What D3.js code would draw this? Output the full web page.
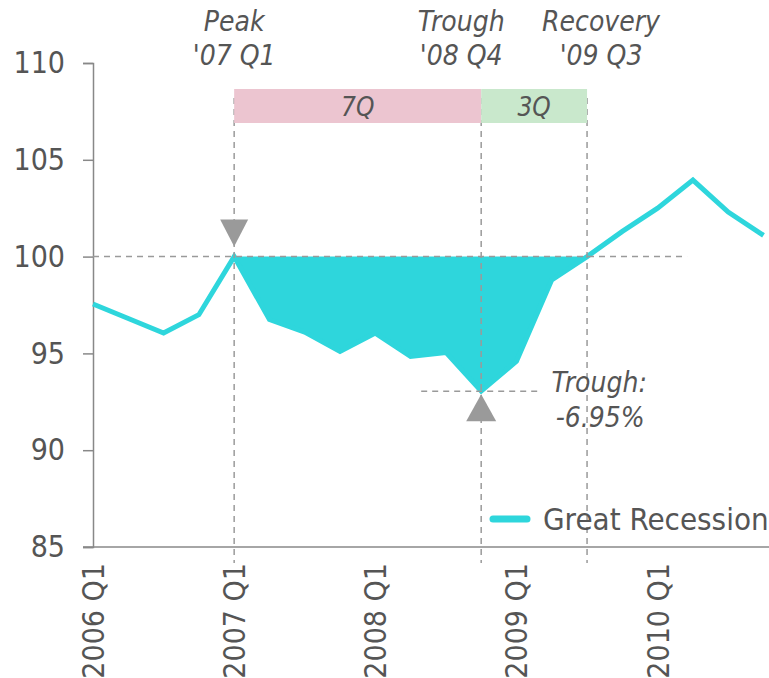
<!DOCTYPE html>
<html>
<head>
<meta charset="utf-8">
<script src="https://cdn.jsdelivr.net/npm/d3@7"></script>
<style>
  body { margin: 0; background: #fff; }
  text { font-family: "DejaVu Sans Condensed", "DejaVu Sans", sans-serif; fill: #555; }
  .note { font-style: italic; font-size: 28px; }
</style>
</head>
<body>
<div id="chartDiv"></div>
<script>
//Quarter labels and index values (peak = 100)
var quarters = ["2006 Q1","2006 Q2","2006 Q3","2006 Q4",
                "2007 Q1","2007 Q2","2007 Q3","2007 Q4",
                "2008 Q1","2008 Q2","2008 Q3","2008 Q4",
                "2009 Q1","2009 Q2","2009 Q3","2009 Q4",
                "2010 Q1","2010 Q2","2010 Q3","2010 Q4"];
var values = [97.55, 96.8, 96.05, 97.0,
              100, 96.75, 96.1, 95.1,
              96.05, 94.85, 95.05, 93.05,
              94.6, 98.8, 100, 101.3,
              102.5, 103.95, 102.3, 101.1];
var yTicks = [85, 90, 95, 100, 105, 110];
var xTickIdx = [0, 4, 8, 12, 16];
var seriesName = "Great Recession";

//Events: peak, trough, recovery (index into quarters)
var peakIdx = 4, troughIdx = 11, recovIdx = 14;
var troughPct = "-6.95%";
var eventNames = ["Peak", "Trough", "Recovery"];
var eventDates = ["'07 Q1", "'08 Q4", "'09 Q3"];
var phases = [ { from: 4, to: 11, label: "7Q", color: "#ecc5d0" },
               { from: 11, to: 14, label: "3Q", color: "#c9e8cc" } ];

var teal = "#2ed6dc";
var grey = "#9a9a9a";

var W = 769, H = 678;
var svg = d3.select('#chartDiv').append('svg')
  .attr('width', W).attr('height', H);

var x = d3.scaleLinear().domain([0, quarters.length - 1]).range([93, 763.5]);
var y = d3.scaleLinear().domain([85, 110]).range([547, 63]);

//Axes
var yAxis = svg.append('g')
  .attr('transform', 'translate(' + x(0) + ',0)')
  .call(d3.axisLeft(y).tickValues(yTicks).tickSize(10).tickPadding(18));
yAxis.selectAll('text').style('font-size', '30px');

var xAxis = svg.append('g')
  .attr('transform', 'translate(0,' + y(85) + ')')
  .call(d3.axisBottom(x).tickValues(xTickIdx).tickSize(0)
        .tickFormat(function(i){ return quarters[i]; }));
xAxis.select('.domain').attr('d', 'M' + (x(0) - 10) + ',0H' + W);
xAxis.selectAll('text')
  .style('font-size', '30px')
  .attr('text-anchor', 'end')
  .attr('transform', 'rotate(-90)')
  .attr('x', -16).attr('y', 0).attr('dy', '0.35em');

svg.selectAll('.domain, .tick line').attr('stroke', '#888').attr('stroke-width', 1.5);
svg.selectAll('.tick text').attr('fill', '#555');

//Shaded drawdown between peak and recovery
var dd = d3.range(peakIdx, recovIdx + 1);
svg.append('path')
  .datum(dd)
  .attr('fill', teal)
  .attr('d', d3.area()
        .x(function(i){ return x(i); })
        .y0(y(100))
        .y1(function(i){ return y(values[i]); }));

//Series line
svg.append('path')
  .datum(values)
  .attr('fill', 'none')
  .attr('stroke', teal)
  .attr('stroke-width', 5)
  .attr('stroke-linejoin', 'miter')
  .attr('d', d3.line()
        .x(function(d, i){ return x(i); })
        .y(function(d){ return y(d); }));

//Guide lines
var dash = '6,5';
var guides = svg.append('g')
  .attr('stroke', grey).attr('stroke-width', 1.5)
  .attr('stroke-dasharray', dash);
guides.append('line')
  .attr('x1', x(0)).attr('x2', x(recovIdx) + 100)
  .attr('y1', y(100)).attr('y2', y(100));
guides.append('line')
  .attr('x1', x(troughIdx) - 60).attr('x2', x(troughIdx) + 60)
  .attr('y1', y(values[troughIdx])).attr('y2', y(values[troughIdx]));
guides.selectAll('line.v')
  .data([peakIdx, troughIdx, recovIdx])
  .enter().append('line')
  .attr('class', 'v')
  .attr('x1', function(i){ return x(i); })
  .attr('x2', function(i){ return x(i); })
  .attr('y1', 98).attr('y2', y(85) + 16);

//Phase bands
var bands = svg.selectAll('g.band')
  .data(phases)
  .enter().append('g').attr('class', 'band');
bands.append('rect')
  .attr('x', function(d){ return x(d.from); })
  .attr('width', function(d){ return x(d.to) - x(d.from); })
  .attr('y', 89).attr('height', 34)
  .attr('fill', function(d){ return d.color; });
bands.append('text')
  .attr('class', 'note')
  .style('font-size', '26px')
  .attr('text-anchor', 'middle')
  .attr('x', function(d){ return (x(d.from) + x(d.to)) / 2; })
  .attr('y', 116)
  .text(function(d){ return d.label; });

//Markers
var px = x(peakIdx), py = y(values[peakIdx]);
svg.append('path')
  .attr('fill', grey)
  .attr('d', 'M' + (px - 14) + ',' + (py - 37) + 'L' + (px + 14) + ',' + (py - 37) +
             'L' + px + ',' + (py - 10) + 'Z');
var tx = x(troughIdx), ty = y(values[troughIdx]);
svg.append('path')
  .attr('fill', grey)
  .attr('d', 'M' + (tx - 15) + ',' + (ty + 30) + 'L' + (tx + 15) + ',' + (ty + 30) +
             'L' + tx + ',' + (ty + 3) + 'Z');

//Event labels
var shift = [0, -20, 14];
[peakIdx, troughIdx, recovIdx].forEach(function(i, k){
  var t = svg.append('text')
    .attr('class', 'note')
    .attr('text-anchor', 'middle')
    .attr('x', x(i) + shift[k]);
  t.append('tspan').attr('x', x(i) + shift[k]).attr('y', 31).text(eventNames[k]);
  t.append('tspan').attr('x', x(i) + shift[k]).attr('y', 65).text(eventDates[k]);
});

var tl = svg.append('text')
  .attr('class', 'note')
  .attr('text-anchor', 'middle');
tl.append('tspan').attr('x', tx + 118).attr('y', 392).text('Trough:');
tl.append('tspan').attr('x', tx + 119).attr('y', 427).text(troughPct);

//Legend
var lg = svg.append('g').attr('transform', 'translate(493,519)');
lg.append('line')
  .attr('x1', 0).attr('x2', 34)
  .attr('stroke', teal).attr('stroke-width', 7)
  .attr('stroke-linecap', 'round');
lg.append('text')
  .attr('x', 50).attr('y', 0).attr('dy', '0.36em')
  .style('font-size', '31px')
  .text(seriesName);
</script>
</body>
</html>
